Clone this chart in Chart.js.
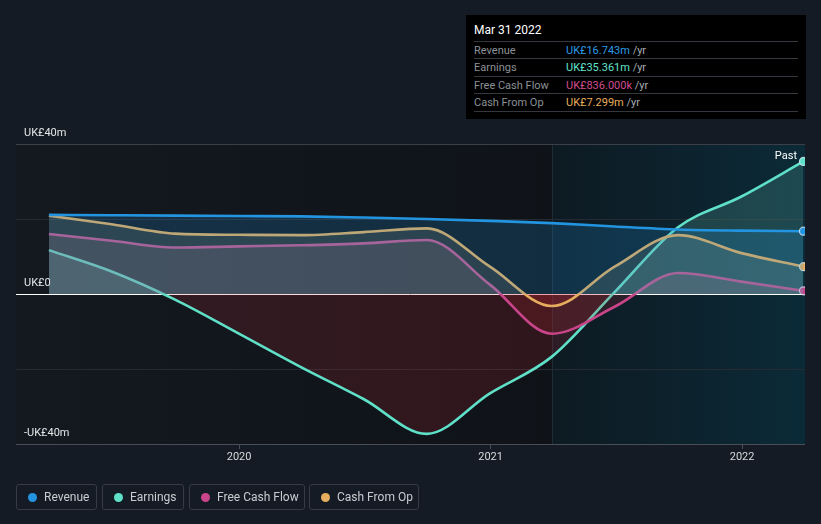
<!DOCTYPE html>
<html>
<head>
<meta charset="utf-8">
<script src="https://cdn.jsdelivr.net/npm/chart.js@4.4.1/dist/chart.umd.min.js"></script>
<style>
  html, body { margin:0; padding:0; background:#151b24; }
  #wrap { position:relative; width:821px; height:524px; background:#151b24; font-family: Roboto, "Noto Sans", sans-serif; overflow:hidden; }
  canvas { position:absolute; left:0; top:0; }
  #tip { position:absolute; left:466px; top:15px; width:340px; height:104px; background:#000; }
  #tip .title { position:absolute; left:8px; top:8px; color:#fff; font-size:12px; }
  #tip .sep { position:absolute; left:8px; width:324px; height:1px; background:#34373d; }
  #tip .row { position:absolute; left:8px; font-size:11px; color:#8b9097; white-space:nowrap; }
  #tip .row .v { position:absolute; left:92px; }
  #tip .row .yr { color:#a8acb2; }
  .leg { position:absolute; top:484px; height:26px; border:1px solid #363b44; border-radius:3px; box-sizing:border-box; color:#c9ccd1; font-size:12px; line-height:24px; white-space:nowrap; }
  .leg .dot { position:absolute; left:11px; top:8px; width:9px; height:9px; border-radius:50%; }
  .leg .t { position:absolute; left:27px; top:0; }
</style>
</head>
<body>
<div id="wrap">
  <canvas id="c" width="821" height="524"></canvas>
  <div id="tip">
    <div class="title">Mar 31 2022</div>
    <div class="sep" style="top:26px"></div>
    <div class="row" style="top:27px;line-height:17px">Revenue<span class="v"><span style="color:#2d9be6">UK£16.743m</span> <span class="yr">/yr</span></span></div>
    <div class="sep" style="top:43px"></div>
    <div class="row" style="top:44px;line-height:17px">Earnings<span class="v"><span style="color:#62e3cb">UK£35.361m</span> <span class="yr">/yr</span></span></div>
    <div class="sep" style="top:61px"></div>
    <div class="row" style="top:62px;line-height:17px">Free Cash Flow<span class="v"><span style="color:#d24d8e">UK£836.000k</span> <span class="yr">/yr</span></span></div>
    <div class="sep" style="top:78px"></div>
    <div class="row" style="top:79px;line-height:17px">Cash From Op<span class="v"><span style="color:#e8ae5c">UK£7.299m</span> <span class="yr">/yr</span></span></div>
    <div class="sep" style="top:96px"></div>
  </div>
  <div class="leg" style="left:16px;width:81px"><span class="dot" style="background:#2394df"></span><span class="t">Revenue</span></div>
  <div class="leg" style="left:102px;width:82px"><span class="dot" style="background:#5fe0c8"></span><span class="t">Earnings</span></div>
  <div class="leg" style="left:189px;width:116px"><span class="dot" style="background:#c9458a"></span><span class="t">Free Cash Flow</span></div>
  <div class="leg" style="left:309px;width:110px"><span class="dot" style="background:#e6ad5e"></span><span class="t">Cash From Op</span></div>
</div>
<script>
// ---- data (UK£ millions, trailing twelve months) ----
const dates = ['2019-03-31','2019-06-30','2019-09-30','2019-12-31','2020-03-31','2020-06-30','2020-09-30','2020-12-31','2021-03-31','2021-06-30','2021-09-30','2021-12-31','2022-03-31'];
const revenue  = [21.1, 21.0, 20.9, 20.8, 20.7, 20.4, 20.0, 19.5, 18.9, 18.0, 17.2, 16.9, 16.743];
const earnings = [11.7, 6.0, -1.5, -10.5, -19.5, -28.0, -37.3, -26.5, -16.7, 0.5, 17.8, 26.0, 35.361];
const freeCashFlow = [16.0, 14.2, 12.4, 12.7, 13.0, 13.5, 14.4, 2.5, -10.6, -3.4, 5.6, 3.3, 0.836];
const cashFromOp   = [20.9, 18.6, 16.1, 15.8, 15.7, 16.5, 17.5, 7.3, -3.2, 7.3, 15.7, 10.9, 7.299];
const yTickValues = [40, 0, -40];
const yTickLabels = ['UK£40m', 'UK£0', '-UK£40m'];
const xTickYears = [2020, 2021, 2022];
const pastStartDate = '2021-03-31';

function decYear(s) {
  const d = new Date(s + 'T00:00:00Z');
  const y = d.getUTCFullYear();
  const start = Date.UTC(y, 0, 1), end = Date.UTC(y + 1, 0, 1);
  return y + (d.getTime() - start) / (end - start);
}
const xs = dates.map(decYear);
const pts = arr => arr.map((v, i) => ({ x: xs[i], y: v }));
const lastIdx = dates.length - 1;

function ds(label, data, color, fillAbove, order) {
  return {
    label, data: pts(data), borderColor: color, borderWidth: 2.6,
    cubicInterpolationMode: 'monotone', tension: 0.4,
    fill: { target: 'origin', above: fillAbove, below: 'rgba(205,40,55,0.17)' },
    pointRadius: c => c.dataIndex === lastIdx ? 4 : 0,
    pointBackgroundColor: color, pointBorderColor: 'rgba(230,240,250,0.75)', pointBorderWidth: 1.2,
    pointHoverRadius: 0
  };
}

const bgPlugin = {
  id: 'bg',
  beforeDraw(chart) {
    const { ctx, chartArea: a, scales } = chart;
    const xp = scales.x.getPixelForValue(decYear(pastStartDate));
    ctx.save();
    let g = ctx.createLinearGradient(a.left, 0, xp, 0);
    g.addColorStop(0, '#141920');
    g.addColorStop(1, '#0f1318');
    ctx.fillStyle = g;
    ctx.fillRect(a.left, a.top, xp - a.left, a.bottom - a.top);
    g = ctx.createLinearGradient(xp, 0, a.right, 0);
    g.addColorStop(0, '#0d1a22');
    g.addColorStop(1, '#0b2a37');
    ctx.fillStyle = g;
    ctx.fillRect(xp, a.top, a.right - xp, a.bottom - a.top);
    ctx.strokeStyle = '#1e2c35';
    ctx.lineWidth = 1;
    ctx.beginPath(); ctx.moveTo(Math.round(xp) + 0.5, a.top); ctx.lineTo(Math.round(xp) + 0.5, a.bottom); ctx.stroke();
    ctx.restore();
  },
  afterDraw(chart) {
    const { ctx, chartArea: a, scales } = chart;
    ctx.save();
    ctx.font = '11px Roboto';
    ctx.fillStyle = '#e4e6e8';
    ctx.textBaseline = 'middle';
    ctx.textAlign = 'left';
    yTickValues.forEach((v, i) => {
      ctx.fillText(yTickLabels[i], 24, scales.y.getPixelForValue(v) - 11);
    });
    ctx.textAlign = 'right';
    ctx.fillStyle = '#ffffff';
    ctx.fillText('Past', a.right - 8, a.top + 12);
    ctx.restore();
  }
};

new Chart(document.getElementById('c'), {
  type: 'line',
  data: {
    datasets: [
      ds('Revenue', revenue, '#2394df', 'rgba(35,148,223,0.20)'),
      ds('Cash From Op', cashFromOp, '#e6ad5e', 'rgba(200,190,140,0.16)'),
      ds('Free Cash Flow', freeCashFlow, '#c9458a', 'rgba(190,110,130,0.20)'),
      ds('Earnings', earnings, '#5fe0c8', 'rgba(110,200,185,0.20)')
    ]
  },
  options: {
    responsive: false, animation: false,
    layout: { padding: { left: 16, right: 16, top: 144, bottom: 50 } },
    plugins: { legend: { display: false }, tooltip: { enabled: false } },
    events: [],
    scales: {
      x: {
        type: 'linear', min: 2019.113, max: 2022.25,
        afterBuildTicks: s => { s.ticks = xTickYears.map(v => ({ value: v })); },
        afterFit: s => { s.height = 30; },
        grid: { drawOnChartArea: false, drawTicks: true, tickLength: 5, color: '#4a4f57' },
        border: { display: false },
        ticks: { color: '#d8dadd', font: { family: 'Roboto', size: 11 }, padding: 2, callback: v => String(v) }
      },
      y: {
        min: -40, max: 40,
        ticks: { display: false, stepSize: 20 },
        afterFit: s => { s.width = 0; },
        border: { display: false },
        grid: {
          drawTicks: false,
          color: c => {
            const v = c.tick.value;
            if (v === 0) return '#ffffff';
            if (v === 40) return '#3a3f48';
            if (v === -40) return '#4a4f57';
            return '#262b33';
          },
          lineWidth: 1
        }
      }
    }
  },
  plugins: [bgPlugin]
});
</script>
</body>
</html>
